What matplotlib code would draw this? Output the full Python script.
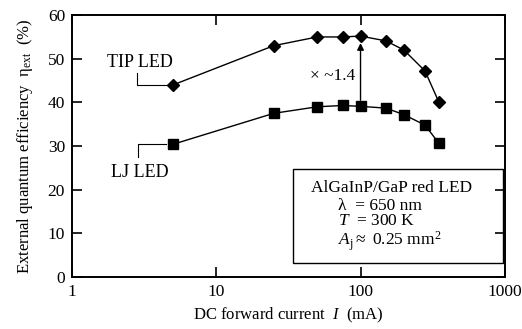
"""EQE vs DC forward current for TIP and LJ AlGaInP/GaP LEDs."""
import matplotlib
matplotlib.use("Agg")
import matplotlib.pyplot as plt
from matplotlib.patches import Rectangle

plt.rcParams["font.family"] = ["Liberation Serif", "DejaVu Serif"]
plt.rcParams["mathtext.fontset"] = "custom"
plt.rcParams["mathtext.rm"] = "Liberation Serif"
plt.rcParams["mathtext.it"] = "Liberation Serif:italic"

current_ma = [5, 25, 50, 75, 100, 150, 200, 280, 350]
tip_eqe = [44.0, 53.0, 55.0, 55.0, 55.2, 54.1, 52.0, 47.2, 40.0]
lj_eqe = [30.4, 37.5, 39.0, 39.3, 39.1, 38.7, 37.2, 34.8, 30.6]

x_ticks = [1, 10, 100, 1000]
x_tick_labels = ["1", "10", "100", "1000"]
y_ticks = [0, 10, 20, 30, 40, 50, 60]

C = "black"


def main():
    fig = plt.figure(figsize=(5.22, 3.29), dpi=100)
    ax = fig.add_axes([0.138, 0.158, 0.829, 0.796])

    ax.plot(current_ma, tip_eqe, "-", color=C, lw=1.0, marker="D", ms=6.5, zorder=3)
    ax.plot(current_ma, lj_eqe, "-", color=C, lw=1.0, marker="s", ms=6.5, zorder=3)

    ax.set_xscale("log")
    ax.set_xlim(1, 1000)
    ax.set_ylim(0, 60)
    ax.set_xticks(x_ticks)
    ax.set_xticklabels(x_tick_labels)
    ax.set_yticks(y_ticks)
    ax.minorticks_off()
    ax.tick_params(direction="in", length=7, width=1.2, labelsize=12.5,
                   top=True, right=True, pad=5)
    for s in ax.spines.values():
        s.set_linewidth(1.4)

    ax.set_xlabel(r"DC forward current  $I$  (mA)", fontsize=12, labelpad=4)
    ax.set_ylabel(r"External quantum efficiency  η$_{\rm ext}$  (%)",
                  fontsize=12, labelpad=9)

    # factor arrow
    ax.annotate("", xy=(current_ma[4], 53.6), xytext=(current_ma[4], 40.5),
                arrowprops=dict(arrowstyle="-|>", color=C, lw=1.0,
                                mutation_scale=10, shrinkA=0, shrinkB=0))
    ax.text(92, 46, "× ~1.4", ha="right", va="center", fontsize=12.5)

    # curve labels with leaders
    ax.text(2.97, 49.2, "TIP LED", ha="center", va="center", fontsize=13)
    ax.plot([2.83, 2.83, 4.5], [46.7, 44.0, 44.0], color=C, lw=0.8)
    ax.text(2.97, 24.0, "LJ LED", ha="center", va="center", fontsize=13)
    ax.plot([4.5, 2.87, 2.87], [30.4, 30.4, 27.4], color=C, lw=0.8)

    # info box
    ax.add_patch(Rectangle((34, 3.2), 934, 21.5, transform=ax.transData,
                           fill=False, ec=C, lw=1.0, zorder=4))
    ax.text(165, 20.5, "AlGaInP/GaP red LED", ha="center", va="center", fontsize=12.5)
    ax.text(70, 16.2, "λ  = 650 nm", ha="left", va="center", fontsize=12.5)
    ax.text(70, 12.8, r"$T$  = 300 K", ha="left", va="center", fontsize=12.5)
    ax.text(70, 8.3, r"$A_{\rm j}\approx$ 0.25 mm$^2$", ha="left", va="center", fontsize=12.5)

    fig.savefig("out.png", dpi=100)


if __name__ == "__main__":
    main()
